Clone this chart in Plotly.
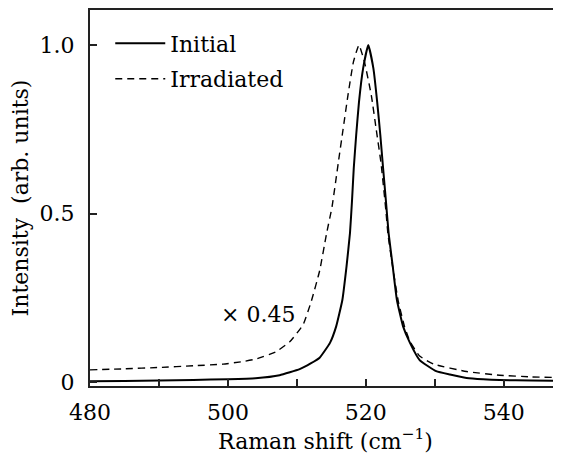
import plotly.graph_objects as go

# Raman spectra
initial_x = [480, 485, 490, 495, 500, 504, 507.5, 510.4, 512, 513.3, 514.8, 515.7, 516.6,
             517.2, 517.7, 518.0, 518.25, 518.6, 519.0, 519.6, 520.35, 521.1, 521.65, 522.1,
             522.5, 522.9, 523.3, 523.9, 524.5, 525.4, 526.4, 527.8, 530.2, 532.2, 534.6,
             537, 539.4, 544, 548.6]
initial_y = [0.002, 0.003, 0.004, 0.006, 0.008, 0.011, 0.02, 0.038, 0.055, 0.072, 0.116,
             0.165, 0.244, 0.343, 0.442, 0.54, 0.635, 0.733, 0.83, 0.93, 1.0, 0.93, 0.83,
             0.733, 0.635, 0.54, 0.442, 0.343, 0.244, 0.165, 0.116, 0.065, 0.032, 0.022,
             0.012, 0.008, 0.006, 0.004, 0.003]

irradiated_x = [480, 485, 490, 495, 499.3, 502, 504.1, 507, 509, 510.9, 512.1, 513.3, 514.3,
                515.1, 516.0, 516.7, 517.4, 518.2, 519.0, 519.8, 520.8, 521.5, 522.2, 522.9,
                523.2, 523.9, 524.7, 525.6, 526.4, 527.8, 529.8, 534.6, 539.4, 544, 548.6]
irradiated_y = [0.036, 0.039, 0.043, 0.048, 0.053, 0.06, 0.068, 0.09, 0.12, 0.17, 0.24, 0.33,
                0.44, 0.52, 0.65, 0.75, 0.85, 0.95, 1.0, 0.95, 0.85, 0.75, 0.65, 0.51, 0.44,
                0.34, 0.24, 0.165, 0.12, 0.077, 0.053, 0.031, 0.02, 0.015, 0.013]

x_tickvals = [480, 490, 500, 510, 520, 530, 540]
x_ticktext = ["480", "", "500", "", "520", "", "540"]
y_tickvals = [0, 0.5, 1.0]
y_ticktext = ["0", "0.5", "1.0"]

serif = "DejaVu Serif"
fs = 22

fig = go.Figure()
fig.add_trace(go.Scatter(x=initial_x, y=initial_y, mode="lines", name="Initial",
                         legendgroup="initial",
                         line=dict(color="black", width=2, shape="spline", smoothing=0.4)))
fig.add_trace(go.Scatter(x=irradiated_x, y=irradiated_y, mode="lines", name="Irradiated",
                         legendgroup="irradiated",
                         line=dict(color="black", width=1.4, dash="7px,5px",
                                   shape="spline", smoothing=0.4)))

fig.add_annotation(x=504.3, y=0.2, text="× 0.45", showarrow=False,
                   font=dict(family=serif, size=fs, color="black"))

fig.update_xaxes(range=[480, 548.3], tickvals=x_tickvals, ticktext=x_ticktext,
                 ticks="inside", ticklen=7, tickwidth=1.5, tickcolor="#222",
                 showline=True, linecolor="#222", linewidth=2, mirror=True,
                 showgrid=False, zeroline=False, automargin=False,
                 ticklabelstandoff=6,
                 tickfont=dict(family=serif, size=fs, color="black"),
                 title=dict(text="Raman shift (cm<sup>−1</sup>)", standoff=8,
                            font=dict(family=serif, size=fs, color="black")))
fig.update_yaxes(range=[-0.012, 1.104], tickvals=y_tickvals, ticktext=y_ticktext,
                 ticks="inside", ticklen=7, tickwidth=1.5, tickcolor="#222",
                 showline=True, linecolor="#222", linewidth=2,
                 showgrid=False, zeroline=False, automargin=False,
                 ticklabelstandoff=9,
                 tickfont=dict(family=serif, size=fs, color="black"),
                 title=dict(text="Intensity  (arb. units)", standoff=8,
                            font=dict(family=serif, size=fs, color="black")))

# the page puts the figure 8 px in from the top-left corner, so trim that off here
fig.update_layout(
    width=553, height=448,
    margin=dict(l=82, r=0, t=2, b=70),
    plot_bgcolor="white", paper_bgcolor="white",
    legend=dict(x=0.043, y=0.967, xanchor="left", yanchor="top",
                bgcolor="rgba(0,0,0,0)", itemwidth=50, tracegroupgap=4,
                font=dict(family=serif, size=fs, color="black")),
)

fig.write_html("out.html")
